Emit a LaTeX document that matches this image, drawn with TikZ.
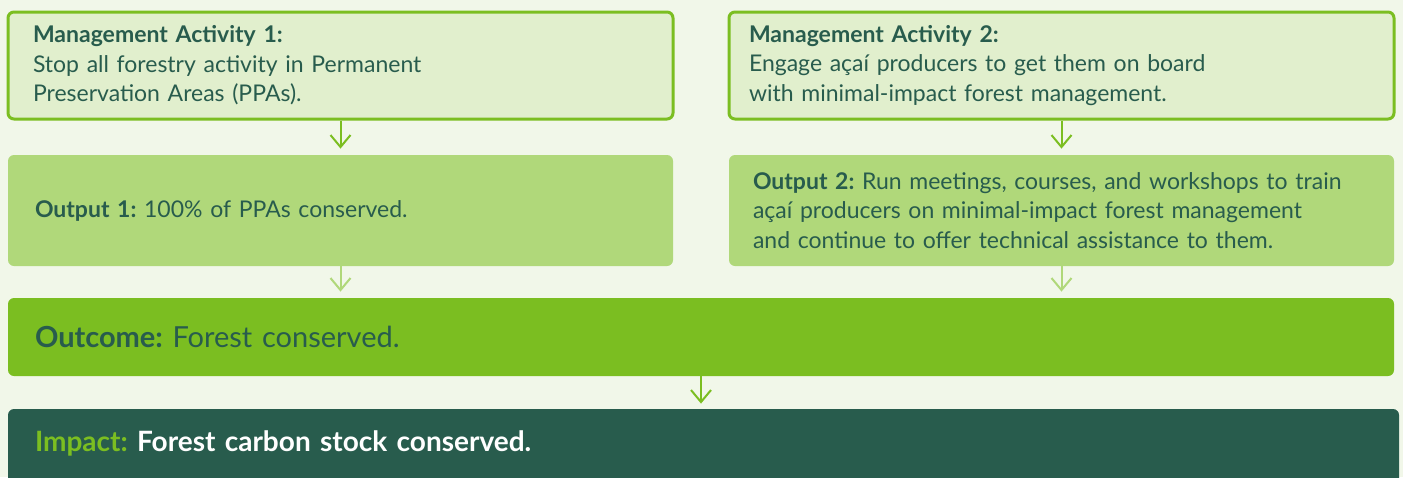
\documentclass[tikz,border=0pt]{standalone}
\usepackage{fontspec}
\setmainfont{Lato}
\usepackage{tikz}
\usetikzlibrary{arrows.meta,positioning}
\definecolor{pagebg}{RGB}{241,247,233}
\definecolor{activityfill}{RGB}{225,239,205}
\definecolor{outputfill}{RGB}{176,216,122}
\definecolor{leaf}{RGB}{123,190,33}
\definecolor{forest}{RGB}{40,92,77}
\tikzset{
  box/.style={rounded corners=3pt,align=left,anchor=center,text=forest,
    font=\fontsize{11.5}{14.75}\selectfont\frenchspacing},
  activity/.style={box,fill=activityfill,draw=leaf,line width=1.5pt,
    minimum width=332.5pt,minimum height=53.5pt},
  output/.style={box,fill=outputfill,minimum width=332.5pt,minimum height=55.5pt},
  outcome/.style={box,fill=leaf,minimum width=693pt,minimum height=39pt,
    font=\fontsize{14.5}{18}\selectfont\frenchspacing},
  impact/.style={box,fill=forest,text=white,minimum width=695.5pt,minimum height=44pt,
    font=\fontsize{14}{16}\selectfont\bfseries\frenchspacing,text height=9.5pt,text depth=11.5pt},
  flow/.style={-{Straight Barb[length=6pt,width=10pt]},line width=1pt,leaf,shorten >=3pt},
  softflow/.style={flow,outputfill}
}

\begin{document}
\begin{tikzpicture}[x=0.5pt,y=-0.5pt]
  \fill[pagebg] (0,0) rectangle (1403,477);
  \clip (0,0) rectangle (1403,477);

  \node[activity,inner xsep=12.5pt,text width=307.5pt] (act1) at (340.5,65.5)
    {\textbf{Management Activity 1:}\\Stop all forestry activity in Permanent\\Preservation Areas (PPAs).};
  \node[activity,inner xsep=10pt,text width=312.5pt] (act2) at (1061.5,65.5)
    {\textbf{Management Activity 2:}\\Engage açaí producers to get them on board\\with minimal-impact forest management.};

  \node[output,inner xsep=13.5pt,text width=305.5pt] (out1) at (340.5,210.5)
    {\textbf{Output 1:} 100\% of PPAs conserved.};
  \node[output,inner xsep=12pt,text width=308.5pt] (out2) at (1061.5,210.5)
    {\textbf{Output 2:} Run meetings, courses, and workshops to train\\açaí producers on minimal-impact forest management\\and continue to offer technical assistance to them.};

  \node[outcome,inner xsep=13.5pt,text width=666pt] (goal) at (701,337)
    {\textbf{Outcome:} Forest conserved.};
  \node[impact,inner xsep=13.5pt,text width=668.5pt] (impact) at (703.5,453)
    {\textcolor{leaf}{Impact:} Forest carbon stock conserved.};

  \draw[flow] (act1) -- (out1);
  \draw[flow] (act2) -- (out2);
  \draw[softflow] (out1.south) -- (out1.south |- goal.north);
  \draw[softflow] (out2.south) -- (out2.south |- goal.north);
  \draw[flow,shorten >=2.5pt] (goal.south) -- (goal.south |- impact.north);
\end{tikzpicture}
\end{document}
